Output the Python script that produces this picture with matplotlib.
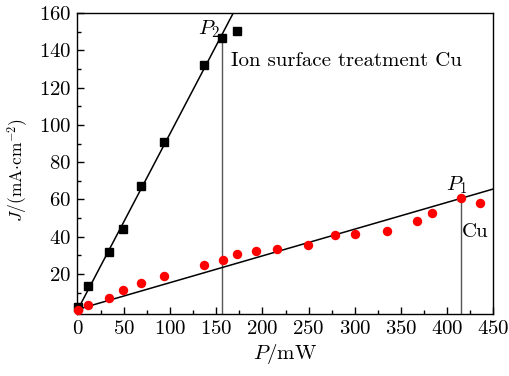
import matplotlib
matplotlib.use("Agg")
import matplotlib.pyplot as plt
import numpy as np
from matplotlib.ticker import MultipleLocator

plt.rcParams['font.family'] = 'serif'
plt.rcParams['font.serif'] = ['cmr10', 'DejaVu Serif']
plt.rcParams['mathtext.fontset'] = 'cm'
plt.rcParams['axes.formatter.use_mathtext'] = True

# Ion surface treatment Cu (black squares)
ion_P = [0, 10.5, 34, 49, 68, 93.5, 136.5, 156, 172]
ion_J = [2, 13.5, 32, 44.3, 67, 91, 132, 146.5, 150.5]

# Cu (red circles)
cu_P = [0, 10.5, 34, 49, 68, 93.5, 136.5, 157, 172, 192.5, 216, 249, 278.5, 300, 335, 367, 383.5, 415, 436]
cu_J = [0.7, 3.2, 7.2, 11.5, 15.3, 18.7, 24.7, 27.6, 30.6, 32.4, 33.3, 35.5, 40.9, 41.6, 43.2, 48.6, 52.8, 60.5, 58.2]

# fitted lines: (intercept, slope)
ion_fit = (1.0, 0.945)
cu_fit = (1.0, 0.1435)

# threshold points
P2 = (156, 146.5)
P1 = (415, 60.5)

fig = plt.figure(figsize=(5.1, 3.76), dpi=100)
ax = fig.add_axes([0.151, 0.165, 0.816, 0.800])

xs1 = np.linspace(0, (160 - ion_fit[0]) / ion_fit[1], 50)
ax.plot(xs1, ion_fit[0] + ion_fit[1] * xs1, color='black', lw=1.1, zorder=2)
xs2 = np.linspace(0, 450, 50)
ax.plot(xs2, cu_fit[0] + cu_fit[1] * xs2, color='black', lw=1.1, zorder=2)

ax.plot([P2[0], P2[0]], [-1.5, P2[1]], color='#555555', lw=1.0, zorder=1)
ax.plot([P1[0], P1[0]], [-1.5, P1[1]], color='#555555', lw=1.0, zorder=1)

ax.plot(ion_P, ion_J, 's', color='black', ms=5.8, zorder=3, clip_on=False)
ax.plot(cu_P, cu_J, 'o', color='#ff0000', ms=6.8, mec='none', zorder=3, clip_on=False)

ax.text(P2[0] - 1.5, 151.5, '$P_2$', fontsize=15, ha='right', va='center')
ax.text(166, 134.5, 'Ion surface treatment Cu', fontsize=15, ha='left', va='center')
ax.text(P1[0] - 5, 67.5, '$P_1$', fontsize=15, ha='center', va='center')
ax.text(P1[0] + 1.5, 42.4, 'Cu', fontsize=15, ha='left', va='center')

ax.set_xlim(-1, 450)
ax.set_ylim(-1.5, 160)
ax.xaxis.set_major_locator(MultipleLocator(50))
ax.xaxis.set_minor_locator(MultipleLocator(25))
ax.yaxis.set_minor_locator(MultipleLocator(10))
ax.set_yticks([20, 40, 60, 80, 100, 120, 140, 160])
ax.tick_params(which='both', direction='in', top=False, right=False, labelsize=15)
ax.tick_params(which='major', length=5, width=1, pad=4)
ax.tick_params(which='minor', length=3, width=1)
for s in ax.spines.values():
    s.set_linewidth(1.0)

ax.set_xlabel('$P$/mW', fontsize=15, labelpad=3)
ax.set_ylabel(r'$J$/(mA$\cdot$cm$^{-2}$)', fontsize=12.5)
ax.yaxis.set_label_coords(-0.112, 0.48)

fig.savefig('out.png', dpi=100)
